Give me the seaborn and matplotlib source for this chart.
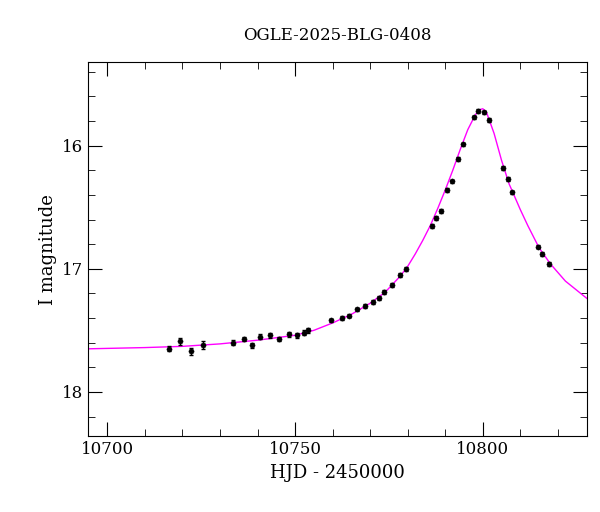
import matplotlib
matplotlib.use("Agg")
import matplotlib.pyplot as plt
import seaborn as sns
import pandas as pd
from matplotlib.ticker import MultipleLocator

hjd = [10716.5,10719.4,10722.3,10725.5,10733.5,10736.4,10738.6,10740.7,10743.4,10745.7,
       10748.4,10750.5,10752.4,10753.5,10759.6,10762.5,10764.4,10766.5,10768.6,10770.7,
       10772.3,10773.7,10775.8,10777.9,10779.5,10786.4,10787.5,10788.8,10790.4,10791.8,
       10793.4,10794.7,10797.6,10798.7,10800.3,10801.6,10805.3,10806.6,10807.7,10814.6,
       10815.9,10817.5]
mag = [17.65,17.59,17.67,17.62,17.60,17.57,17.62,17.55,17.54,17.57,
       17.53,17.54,17.52,17.50,17.42,17.40,17.38,17.33,17.30,17.27,
       17.24,17.19,17.13,17.05,17.00,16.65,16.59,16.53,16.36,16.29,
       16.11,15.99,15.77,15.72,15.73,15.79,16.18,16.27,16.38,16.82,
       16.88,16.96]
err = [0.02,0.03,0.03,0.03,0.02,0.02,0.02,0.02,0.02,0.02,
       0.02,0.02,0.02,0.02,0.015,0.015,0.015,0.015,0.015,0.015,
       0.015,0.015,0.015,0.015,0.015,0.015,0.015,0.015,0.015,0.015,
       0.015,0.015,0.015,0.015,0.015,0.015,0.015,0.015,0.015,0.015,
       0.015,0.015]
model_t = [10694.9,10710,10720,10730,10740,10750,10755,10760,10765,10770,10774,10778,10780,
           10782,10784,10786,10788,10790,10792,10794,10796,10798,10799,10800,10801,10803,
           10805,10807,10810,10812,10815,10818,10822,10827.7]
model_m = [17.65,17.64,17.63,17.61,17.58,17.54,17.50,17.44,17.37,17.28,17.19,17.06,16.98,
           16.88,16.77,16.65,16.51,16.36,16.20,16.03,15.87,15.75,15.71,15.70,15.73,15.90,
           16.12,16.31,16.52,16.65,16.83,16.96,17.10,17.24]

plt.rcParams["font.family"] = "DejaVu Serif"
fig, ax = plt.subplots(figsize=(6, 5.12), dpi=100)
fig.subplots_adjust(left=0.147, right=0.978, top=0.879, bottom=0.148)

sns.lineplot(data=pd.DataFrame({"t": model_t, "m": model_m}), x="t", y="m",
             color="magenta", lw=1, ax=ax)
ax.errorbar(hjd, mag, yerr=err, fmt="none", ecolor="black", elinewidth=1, capsize=1.5)
sns.scatterplot(x=hjd, y=mag, color="black", s=14, edgecolor="black", ax=ax, zorder=3)

ax.set_xlim(10694.9, 10827.7)
ax.set_ylim(18.36, 15.32)
ax.xaxis.set_major_locator(MultipleLocator(50))
ax.xaxis.set_minor_locator(MultipleLocator(10))
ax.yaxis.set_major_locator(MultipleLocator(1))
ax.yaxis.set_minor_locator(MultipleLocator(0.2))
ax.tick_params(which="both", direction="in", top=True, right=True, labelsize=12)
ax.tick_params(which="major", length=10)
ax.tick_params(which="minor", length=5)
ax.set_xlabel("HJD - 2450000", fontsize=13)
ax.set_ylabel("I magnitude", fontsize=13)
ax.set_title("OGLE-2025-BLG-0408", fontsize=12, pad=16)
fig.savefig("out.png")
